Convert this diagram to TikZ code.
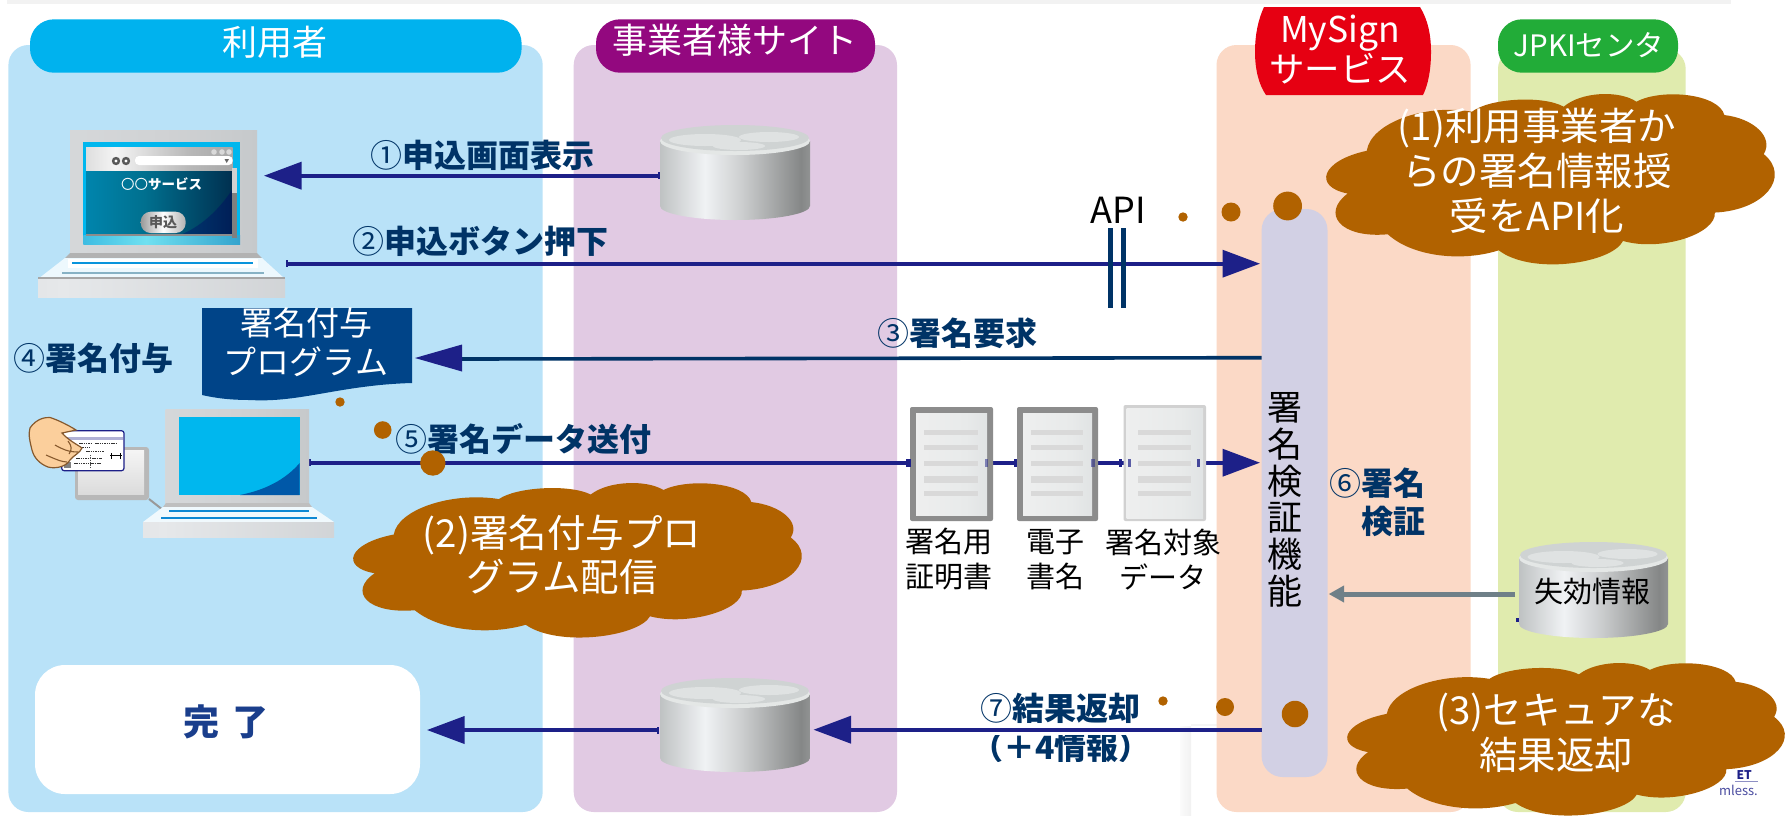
\documentclass[tikz,border=0pt]{standalone}
\usepackage{fontspec}
\setmainfont{Noto Sans CJK JP}
\usetikzlibrary{arrows.meta,fit}
\definecolor{navy}{HTML}{1D2088}
\definecolor{labc}{HTML}{003366}
\definecolor{brownc}{HTML}{B16200}
\definecolor{ubg}{HTML}{B9E2F8}
\definecolor{uhd}{HTML}{00B2EE}
\definecolor{pbg}{HTML}{E1CAE3}
\definecolor{phd}{HTML}{93087F}
\definecolor{obg}{HTML}{FBD9C6}
\definecolor{ohd}{HTML}{E60012}
\definecolor{gbg}{HTML}{E0EBAE}
\definecolor{ghd}{HTML}{22AC38}
\definecolor{pill}{HTML}{D2D0E4}
\definecolor{grayarrow}{HTML}{6F8088}
\definecolor{progc}{HTML}{004488}
\definecolor{skin}{HTML}{FBCF9C}
\definecolor{donec}{HTML}{1A3E8C}
\definecolor{scrna}{HTML}{00B7EE}
\definecolor{scrnb}{HTML}{0058A8}
\definecolor{drumrim}{HTML}{E4E7E6}
\definecolor{drumtop}{HTML}{CFD3D3}
\definecolor{drumlit}{HTML}{DFE2E2}
\newcommand{\hx}[1]{\definecolor{#1}{HTML}{#1}}
\hx{E6E8E8}\hx{E2E5E5}\hx{A8ACAC}\hx{F0F2F4}\hx{CDCFD0}\hx{858787}\hx{BEC0C0}\hx{A8AAAA}
\hx{DADDDF}\hx{D0D2D4}\hx{C6C9CB}\hx{BEC2C5}\hx{A8A8A8}\hx{F4F4F4}\hx{B8B8B8}\hx{8C8C8C}
\hx{009FD2}\hx{00708F}\hx{003050}\hx{000A3C}\hx{0090D0}\hx{70E0F0}\hx{0070B0}
\hx{D8DADC}\hx{E6E8EA}\hx{C6C9CC}\hx{F2F2F2}\hx{E8EAEA}\hx{D4D8DA}\hx{FFFFFF}\hx{EDEDED}
\pgfdeclarehorizontalshading{cyl}{100bp}{color(0bp)=(E6E8E8); color(6bp)=(E2E5E5); color(18bp)=(A8ACAC); color(40bp)=(F0F2F4); color(52bp)=(CDCFD0); color(72bp)=(858787); color(86bp)=(BEC0C0); color(100bp)=(A8AAAA)}
\pgfdeclarehorizontalshading{bez}{100bp}{color(0bp)=(DADDDF); color(50bp)=(D0D2D4); color(75bp)=(C6C9CB); color(100bp)=(BEC2C5)}
\pgfdeclarehorizontalshading{barsh}{100bp}{color(0bp)=(A8A8A8); color(35bp)=(F4F4F4); color(60bp)=(B8B8B8); color(100bp)=(8C8C8C)}
\pgfdeclarehorizontalshading{scrn}{100bp}{color(0bp)=(009FD2); color(45bp)=(00708F); color(75bp)=(003050); color(100bp)=(000A3C)}
\pgfdeclarehorizontalshading{strip}{100bp}{color(0bp)=(0090D0); color(45bp)=(70E0F0); color(100bp)=(0070B0)}
\pgfdeclarehorizontalshading{frontsh}{100bp}{color(0bp)=(D8DADC); color(30bp)=(E6E8EA); color(100bp)=(C6C9CC)}
\pgfdeclarehorizontalshading{docsh}{100bp}{color(0bp)=(F2F2F2); color(60bp)=(E8EAEA); color(100bp)=(D4D8DA)}
\pgfdeclarehorizontalshading{fadeh}{100bp}{color(0bp)=(FFFFFF); color(100bp)=(EDEDED)}
\tikzset{
  x=1pt,y=-1pt,
  panel/.style={fit={#1},inner sep=0pt,rounded corners=20pt,draw=none},
  head/.style={fit={#1},inner sep=0pt,rounded corners=24pt,draw=none},
  headtext/.style={text=white,inner sep=0pt,align=center,font=\fontsize{35}{38}\selectfont},
  cloudtext/.style={text=white,inner sep=0pt,align=center,font=\fontsize{38.5}{45}\selectfont},
  lab/.style={text=labc,inner sep=0pt,align=center,font=\fontsize{32}{39}\selectfont\bfseries},
  plain/.style={text=black,inner sep=0pt,align=center,font=\fontsize{29}{35}\selectfont},
  flow/.style={draw=navy,line width=3.6pt,-{Triangle[length=37.5pt,width=27pt,color=navy]}},
  flowt/.style={draw=navy,line width=3.6pt,{Rectangle[length=2pt,width=7pt,color=navy]}-{Triangle[length=37.5pt,width=27pt,color=navy]}},
  dot/.style={circle,fill=brownc,inner sep=0pt,minimum size=#1,draw=none},
}
\newcommand{\num}[1]{{\mdseries #1}}
% cloud: traced outline, fitted to a box
\newcommand{\brownCloud}[4]{%
  \pgfmathsetmacro{\sx}{(#3-#1)/1174}\pgfmathsetmacro{\sy}{(#4-#2)/515}
  \pgfmathsetmacro{\ox}{#1-366*\sx}\pgfmathsetmacro{\oy}{#2-282*\sy}
  \begin{scope}[shift={(\ox,\oy)},xscale=\sx,yscale=\sy]
  \fill[brownc] (420,580) .. controls (330,560) and (349,482) .. (470,452)
   .. controls (480,370) and (620,310) .. (745,335)
   .. controls (790,295) and (930,285) .. (985,320)
   .. controls (1030,275) and (1130,270) .. (1175,305)
   .. controls (1240,265) and (1390,280) .. (1405,345)
   .. controls (1480,355) and (1535,410) .. (1508,462)
   .. controls (1580,530) and (1510,630) .. (1380,637)
   .. controls (1385,700) and (1240,755) .. (1140,722)
   .. controls (1110,790) and (900,825) .. (815,750)
   .. controls (720,785) and (590,770) .. (525,702)
   .. controls (400,715) and (350,640) .. (420,580) -- cycle;
  \end{scope}}
% drum server
\newcommand{\drum}[5]{%
  \pgfmathsetmacro{\xm}{(#2+#3)/2}\pgfmathsetmacro{\rx}{(#3-#2)/2}
  \pgfmathsetmacro{\kx}{0.5523*\rx}
  \pgfmathsetmacro{\ya}{#4+16}\pgfmathsetmacro{\yb}{#5-14}\pgfmathsetmacro{\yc}{#5-6.3}
  \pgfmathsetmacro{\yr}{#4+16}\pgfmathsetmacro{\yt}{#4+13}
  \shade[shading=cyl] (#2,\ya) -- (#2,\yb) .. controls (#2,\yc) and (\xm-\kx,#5) .. (\xm,#5)
     .. controls (\xm+\kx,#5) and (#3,\yc) .. (#3,\yb) -- (#3,\ya) -- cycle;
  \fill[drumrim] (\xm,\yr) ellipse [x radius=\rx,y radius=14];
  \fill[drumtop] (\xm,\yt) ellipse [x radius=\rx-1,y radius=13];
  \fill[drumlit] (\xm-30,\yt+2) ellipse [x radius=36,y radius=6];
  \fill[drumlit] (\xm+34,\yt-1) ellipse [x radius=30,y radius=5];
  \fill[drumlit] (\xm+4,\yt+8) ellipse [x radius=26,y radius=4];
  \coordinate (#1) at (\xm,#4+45);}
% document sheet
\newcommand{\sheet}[6]{% x0 x1 y0 y1 framecolour framewidth
  \fill[#5,rounded corners=2pt] (#1,#3) rectangle (#2,#4);
  \pgfmathsetmacro{\ix}{#1+#6}\pgfmathsetmacro{\iy}{#3+#6}\pgfmathsetmacro{\jx}{#2-#6}\pgfmathsetmacro{\jy}{#4-#6}
  \shade[shading=docsh] (\ix,\iy) rectangle (\jx,\jy);
  \pgfmathsetmacro{\lx}{#1+14}\pgfmathsetmacro{\mx}{#2-15}
  \foreach \yy/\hh in {432/5,447/5,463/5,479/7,493/5}
    \fill[black!15] (\lx,\yy-\hh/2) rectangle (\mx,\yy+\hh/2);}
\begin{document}
\begin{tikzpicture}
\useasboundingbox (0,0) rectangle (1787,815);
\fill[white] (0,0) rectangle (1787,815);
\fill[black!5] (7,0) rectangle (1731,3.5);
% white slide shadow
\shade[shading=fadeh] (1180,726) rectangle (1191,815);
\fill[black!4] (1191,724) rectangle (1217,726);
% stray logo
\node[inner sep=0pt,anchor=east,text=navy,font=\fontsize{12}{12}\selectfont\bfseries] (logoa) at (1752,775) {ET};
\fill[navy!50] (1735,780.5) rectangle (1758,782);
\node[inner sep=0pt,anchor=east,text=navy!80,font=\fontsize{13}{13}\selectfont] (logob) at (1758,790) {mless.};
% panels
\node[panel={(8.4,45)(542.7,812)},fill=ubg] (user) {};
\node[panel={(573.7,45)(897,812)},fill=pbg] (site) {};
\node[panel={(1216.5,45)(1470.6,812)},fill=obg] (mysign) {};
\node[panel={(1498,49)(1685.7,812)},fill=gbg] (jpki) {};
% headers
\node[head={(30,19.3)(521.6,72.7)},fill=uhd] (hu) {};
\node[headtext] (hut) at (275,42) {利用者};
\node[head={(596,19.3)(875,72.7)},fill=phd] (hp) {};
\node[headtext] (hpt) at (735,40) {事業者様サイト};
\fill[ohd] (1264,7) -- (1420,7) .. controls (1428,20) and (1431,35) .. (1431,52) .. controls (1431,70) and (1428,85) .. (1423,95) -- (1266,95) .. controls (1259,85) and (1255,70) .. (1255,52) .. controls (1255,35) and (1258,20) .. (1264,7) -- cycle;
\node[headtext,font=\fontsize{35.5}{38}\selectfont] (hm) at (1340,49.5) {MySign\\サービス};
\node[head={(1498,19.3)(1678,72.7)},fill=ghd] (hj) {};
\node[headtext,font=\fontsize{29.5}{34}\selectfont] (hjt) at (1589,45) {JPKIセンタ};
% verification pill
\node[fit={(1261.6,209)(1327.5,777)},inner sep=0pt,fill=pill,rounded corners=21pt] (verify) {};
\node[text=black,inner sep=0pt,align=center,font=\fontsize{35}{36.7}\selectfont] (verifyt) at (1285,500) {署\\名\\検\\証\\機\\能};
% white done box
\node[fit={(35,665)(420,794)},inner sep=0pt,fill=white,rounded corners=30pt] (done) {};
\node[inner sep=0pt,text=donec,font=\fontsize{36}{38}\selectfont\bfseries] (donet) at (226,722) {完\hspace{13pt}了};
% servers
\drum{srva}{660}{810}{125}{220}
\drum{srvb}{660}{810}{678}{772}
\drum{srvc}{1519}{1668}{542}{638}
\node[plain] (srvct) at (1592,592) {失効情報};
\fill[navy] (1515.5,618) rectangle (1518.5,622);
% connector end points
\coordinate (a1s) at (660,175.7); \coordinate (a1e) at (264,175.7);
\coordinate (a2s) at (286,263.7); \coordinate (a2e) at (1260,263.7);
\coordinate (a3s) at (1261.6,357.7); \coordinate (a3e) at (415,359);
\coordinate (a3m) at (462,359);
\coordinate (a5s) at (309,462.7); \coordinate (a5e) at (1260,462.7);
\coordinate (a7s) at (1261.6,729.7); \coordinate (a7e) at (813.5,729.7);
\coordinate (a8s) at (659,730); \coordinate (a8e) at (427,730);
\coordinate (a6s) at (1515,594); \coordinate (a6e) at (1328.6,594);
\coordinate (apia) at (1110,228); \coordinate (apib) at (1110,308);
\coordinate (apic) at (1123.5,228); \coordinate (apid) at (1123.5,308);
% connectors
\draw[flowt] (a1s) -- (a1e);
\draw[flowt] (a2s) -- (a2e);
\draw[labc,line width=3.6pt] (a3s) -- (a3m);
\fill[navy] (415,358) -- (462,344.5) -- (462,371.5) -- cycle;
\draw[flowt] (a5s) -- (a5e);
\draw[flow] (a7s) -- (a7e);
\draw[flowt] (a8s) -- (a8e);
\draw[draw=grayarrow,line width=5pt,-{Triangle[length=15.5pt,width=16pt,color=grayarrow]}] (a6s) -- (a6e);
\draw[labc,line width=5pt] (apia) -- (apib);
\draw[labc,line width=5pt] (apic) -- (apid);
\node[inner sep=0pt,text=black,font=\fontsize{36}{40}\selectfont] (api) at (1118,210) {API};
% documents
\sheet{910}{993}{407}{521}{black!45}{6}
\sheet{1017}{1098}{407}{521}{black!45}{6}
\sheet{1123.5}{1206}{405}{521}{black!18}{3}
\foreach \xx/\ww/\oo in {908/5/1,986/3/.5,1015/3/1,1093/4/.5,1120/3/1,1129/3/.7,1198/3/.8}
  \fill[navy,opacity=\oo] (\xx-\ww/2,459) rectangle (\xx+\ww/2,466.5);
\node[plain] (d1) at (949,559.5) {署名用\\証明書};
\node[plain] (d2) at (1055,559.5) {電子\\書名};
\node[plain] (d3) at (1163,559.5) {署名対象\\データ};
% program sheet
\fill[progc] (202,308) -- (412,308) -- (412,383) .. controls (340,385) and (300,403) .. (250,400) .. controls (230,400) and (215,398) .. (202,395) -- cycle;
\node[inner sep=0pt,text=white,align=center,font=\fontsize{33}{39}\selectfont] (prog) at (306,342.5) {署名付与\\プログラム};
% labels
\node[lab] (l1) at (482,155) {\num{①}申込画面表示};
\node[lab] (l2) at (480,241.5) {\num{②}申込ボタン押下};
\node[lab] (l3) at (957,333) {\num{③}署名要求};
\node[lab] (l4) at (93,358) {\num{④}署名付与};
\node[lab] (l5) at (523,439) {\num{⑤}署名データ送付};
\node[lab,anchor=east] (l6a) at (1426,483) {\num{⑥}署名};
\node[lab,anchor=east] (l6b) at (1426,521) {検証};
\node[lab] (l7) at (1060,708) {\num{⑦}結果返却};
\begin{scope}
\clip (900,735) rectangle (1189,761);
\node[lab] (l7b) at (1061,747) {（＋4情報）};
\end{scope}
% laptop one
\shade[shading=bez] (70,130) rectangle (257,253);
\fill[scrna] (83.3,142) rectangle (240,244);
\shade[shading=scrn] (86,170) rectangle (232,235);
\fill[black!60!blue,opacity=.35] (232,190) -- (232,235) -- (180,235) .. controls (205,225) and (222,205) .. (232,190) -- cycle;
\shade[shading=barsh] (86,147) rectangle (232.7,170);
\shade[shading=strip] (83.3,235) rectangle (240,244);
\fill[black!45] (86,234) rectangle (232,236);
\fill[black!50] (232,168) rectangle (237,238);
\fill[black!18] (232,168) rectangle (237,193);
\foreach \xx in {214,222,229} \fill[black!15] (\xx,152) circle [radius=2.8pt];
\foreach \xx in {116,126} {\fill[black!65] (\xx,161) circle [radius=4.2pt];\fill[white] (\xx,161) circle [radius=1.6pt];}
\fill[white,rounded corners=4pt] (135,156) rectangle (232.7,165);
\fill[black!60] (224.5,159) -- (229,159) -- (226.7,163) -- cycle;
\node[inner sep=0pt,text=white,font=\fontsize{13.5}{15}\selectfont] (svc) at (161.7,184.3) {〇〇\textbf{サービス}};
\shade[left color=black!40,right color=black!30,middle color=white,rounded corners=10pt] (140.7,211.7) rectangle (185.7,233);
\node[inner sep=0pt,text=black!65,font=\fontsize{14}{15}\selectfont\bfseries] (btn) at (163,222.5) {申込};
\fill[black!30] (70,253) -- (257,253) -- (262,258) -- (65,258) -- cycle;
\fill[white!75!ubg] (65,258) -- (262,258) -- (285,279) -- (38,279) -- cycle;
\fill[white] (68,259) rectangle (258,268);
\fill[cyan!80!blue] (72,262) rectangle (253,264.2);
\fill[black!40!cyan,opacity=.6] (62,271.5) rectangle (264,274);
\fill[black!35] (38,277) rectangle (285,279);
\shade[shading=frontsh] (38,279) rectangle (285,297);
% laptop two
\shade[shading=bez] (165.7,409) rectangle (309,505);
\fill[scrna] (178.7,417) rectangle (299.7,495);
\fill[scrnb] (299.7,463) .. controls (285,480) and (265,490) .. (240,495) -- (299.7,495) -- cycle;
\draw[black!40,line width=2pt] (149,499) -- (163,510);
\fill[black!25] (166,503) -- (309,503) -- (312,507) -- (163,507) -- cycle;
\fill[white!78!ubg] (163,507) -- (312,507) -- (334,522) -- (143,522) -- cycle;
\fill[cyan!70!blue] (169,510) rectangle (309,512);
\fill[cyan!70!blue] (161,517) rectangle (317,519);
\shade[shading=frontsh] (143,522) rectangle (334,537);
% card reader
\fill[black!28,rounded corners=3pt] (75,447) rectangle (149,500);
\shade[top color=black!4,bottom color=black!14] (78,450) rectangle (144,494);
% card
\fill[white,draw=navy,line width=1.2pt,rounded corners=2.5pt] (61.7,430.7) rectangle (124,470.7);
\fill[navy!35!white] (62.5,436.5) rectangle (123.4,440);
\foreach \xa/\xb/\ya in {79/92/443,95/117/443,80/90/447,86/104/451,76/102/458,74/101/463}
  \draw[black!80,line width=.9pt,dash pattern=on 1.5pt off .8pt] (\xa,\ya) -- (\xb,\ya);
\draw[black,line width=1pt] (110,455.7) -- (122,455.7) (111,453) -- (111,458.5) (120,453) -- (120,458.5);
\draw[black!70,line width=.7pt,densely dotted] (90,455) -- (90,468);
\fill[black!50] (64,461.7) rectangle (71,468);
% hand
\fill[skin,draw=brown!70!black,line width=1.2pt]
  (30,428) .. controls (36,419) and (45,417) .. (50,417.5) .. controls (58,420) and (68,425) .. (76,430)
  -- (62,433) .. controls (68,440) and (78,445) .. (82,448) .. controls (80,453) and (74,455) .. (70,460)
  .. controls (66,467) and (55,469) .. (48,467) .. controls (40,464) and (34,458) .. (32,450) .. controls (30,442) and (28,434) .. (30,428) -- cycle;
\draw[brown!70!black,line width=1.1pt] (55,445) .. controls (62,449) and (68,452) .. (78,452)
  (46,455) .. controls (55,459) and (62,462) .. (67,462)
  (68,441) .. controls (72,446) and (72,450) .. (69,454);
% dots
\node[dot=9.4pt] (k1) at (340,402) {};
\node[dot=17.6pt] (k2) at (382.7,430) {};
\node[dot=25.4pt] (k3) at (432.8,463) {};
\node[dot=9.4pt] (k4) at (1183,217) {};
\node[dot=19pt] (k5) at (1231,212) {};
\node[dot=28.8pt] (k6) at (1287.6,206) {};
\node[dot=9.4pt] (k7) at (1163,701) {};
\node[dot=18pt] (k8) at (1225,707) {};
\node[dot=26.5pt] (k9) at (1295,714) {};
% clouds
\brownCloud{1327}{94}{1776}{266}
\brownCloud{354}{483}{803}{639}
\brownCloud{1348}{663}{1786}{817}
\node[cloudtext] (c1) at (1537,171) {(1)利用事業者か\\らの署名情報授\\受をAPI化};
\node[cloudtext,font=\fontsize{38.5}{44}\selectfont] (c2) at (562,555) {(2)署名付与プロ\\グラム配信};
\node[cloudtext] (c3) at (1556,733) {(3)セキュアな\\結果返却};
\end{tikzpicture}
\end{document}
